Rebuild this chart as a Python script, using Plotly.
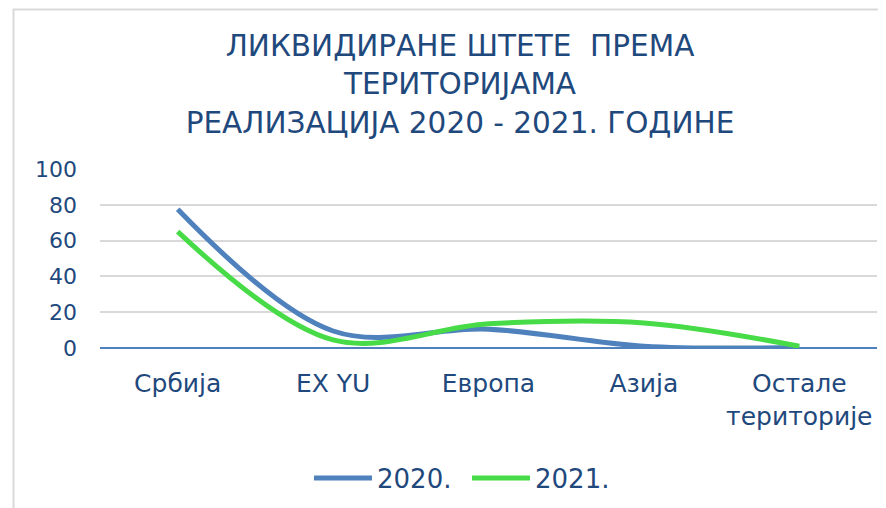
import plotly.graph_objects as go

categories = ["Србија", "EX YU", "Европа", "Азија", "Остале<br>територије"]
values_2020 = [77.5, 9.5, 10.5, 1.0, 0.3]
values_2021 = [65.0, 4.5, 13.5, 14.0, 1.0]
series_names = ["2020.", "2021."]
y_ticks = [0, 20, 40, 60, 80, 100]

TEXT = "#1F497D"
BLUE = "#4F81BD"
GREEN = "#47DC47"
FONT = "DejaVu Sans"

fig = go.Figure()
fig.add_trace(go.Scatter(x=categories, y=values_2020, name=series_names[0], mode="lines",
                         line=dict(color=BLUE, width=5, shape="spline", smoothing=1.0)))
fig.add_trace(go.Scatter(x=categories, y=values_2021, name=series_names[1], mode="lines",
                         line=dict(color=GREEN, width=5, shape="spline", smoothing=1.0)))

OFF = 8  # page body margin
W, H = 878, 500
L, T = 100 - OFF, 169 - OFF
R = W - (877 - OFF)
B = H - (349 - OFF)
pw, ph = W - L - R, H - T - B

def px(x):
    return (x - OFF - L) / pw

def py(y):
    return (H - B - (y - OFF)) / ph

fig.update_layout(
    width=W, height=H,
    margin=dict(l=L, r=R, t=T, b=B),
    paper_bgcolor="white", plot_bgcolor="white",
    font=dict(family=FONT, color=TEXT, size=22),
    title=dict(text="ЛИКВИДИРАНЕ ШТЕТЕ  ПРЕМА<br>ТЕРИТОРИЈАМА<br>РЕАЛИЗАЦИЈА 2020 - 2021. ГОДИНЕ",
               x=(460 - OFF) / W, xanchor="center", xref="container",
               y=1 - 48 / H, yanchor="top", yref="container",
               font=dict(family=FONT, size=29.5, color=TEXT)),
    xaxis=dict(type="category", range=[-0.5, len(categories) - 0.5], showgrid=False,
               showline=False, ticks="", ticklabelstandoff=18, zeroline=False,
               tickfont=dict(size=25, color=TEXT)),
    yaxis=dict(range=[0, 100], tickvals=y_ticks, showgrid=True, gridcolor="#D9D9D9", gridwidth=1.5,
               zeroline=True, zerolinecolor=BLUE, zerolinewidth=1.5, showline=False,
               ticks="", ticklabelstandoff=22, tickfont=dict(size=22, color=TEXT)),
    legend=dict(orientation="h", x=px(467), xanchor="center", y=py(478), yanchor="middle",
                font=dict(size=26, color=TEXT), bgcolor="rgba(0,0,0,0)",
                itemwidth=58, entrywidth=85, entrywidthmode="pixels"),
    showlegend=True,
)

fig.add_shape(type="rect", xref="paper", yref="paper",
              x0=px(13.5), x1=px(W + 30), y0=py(H + 30), y1=py(8.5),
              line=dict(color="#D9D9D9", width=2), fillcolor="rgba(0,0,0,0)", layer="below")

fig.write_html("out.html")
